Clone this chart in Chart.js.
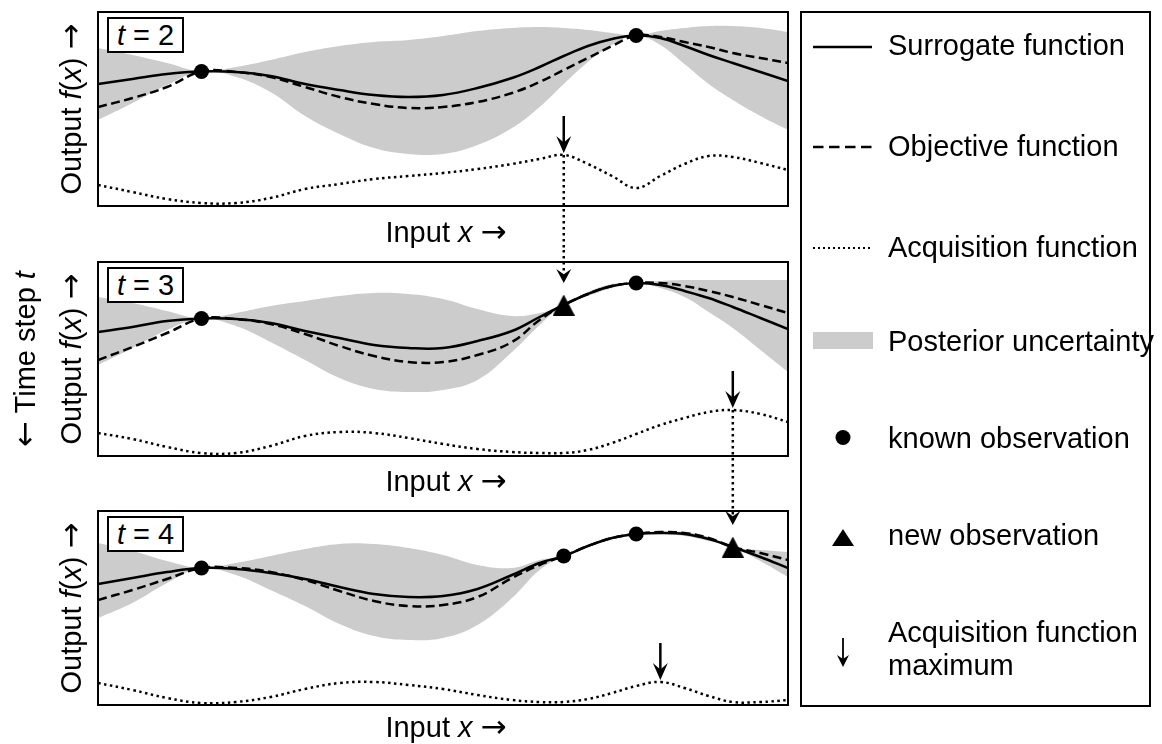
<!DOCTYPE html>
<html>
<head>
<meta charset="utf-8">
<title>Bayesian optimisation, time steps 2 to 4</title>
<script src="https://cdn.jsdelivr.net/npm/chart.js@4.4.1/dist/chart.umd.min.js"></script>
<style>
  html, body { margin: 0; padding: 0; background: #fff; }
  #page { position: relative; width: 1162px; height: 744px; overflow: hidden;
          font-family: "Liberation Sans", Arial, sans-serif; font-size: 29px; color: #000; }
  #page canvas { position: absolute; left: 0; }
  .txt { position: absolute; white-space: nowrap; line-height: 29px; }
  .rot { transform: translate(-50%, -50%) rotate(-90deg); }
  .arr { font-family: "DejaVu Sans", sans-serif; font-size: 31px; }
  .xlab { left: 296px; width: 300px; text-align: center; }
  .tbox { position: absolute; left: 107px; width: 77px; height: 36px; box-sizing: border-box;
          border: 2px solid #000; background: #fff; line-height: 32px; text-align: center; white-space: nowrap; }
  #legend { position: absolute; left: 800px; top: 11px; width: 351px; height: 696px;
            box-sizing: border-box; border: 2px solid #000; }
  #icons { position: absolute; left: 0; top: 0; }
</style>
</head>
<body>
<div id="page">
  <canvas id="p1" width="800" height="250" style="top:0px"></canvas>
  <canvas id="p2" width="800" height="250" style="top:250px"></canvas>
  <canvas id="p3" width="800" height="244" style="top:500px"></canvas>

  <div class="tbox" style="top:17px"><i>t</i> = 2</div>
  <div class="tbox" style="top:267px"><i>t</i> = 3</div>
  <div class="tbox" style="top:516px"><i>t</i> = 4</div>

  <div class="txt xlab" style="top:217px">Input <i>x</i> <span class="arr">→</span></div>
  <div class="txt xlab" style="top:466px">Input <i>x</i> <span class="arr">→</span></div>
  <div class="txt xlab" style="top:712px">Input <i>x</i> <span class="arr">→</span></div>

  <div class="txt rot" style="left:71px; top:109px">Output <i>f</i>(<i>x</i>) <span class="arr">→</span></div>
  <div class="txt rot" style="left:71px; top:359px">Output <i>f</i>(<i>x</i>) <span class="arr">→</span></div>
  <div class="txt rot" style="left:71px; top:608px">Output <i>f</i>(<i>x</i>) <span class="arr">→</span></div>
  <div class="txt rot" style="left:25px; top:359px"><span class="arr">←</span> Time step <i>t</i></div>

  <div id="legend"></div>
  <svg id="icons" width="1162" height="744">
    <line x1="813" y1="47" x2="872" y2="47" stroke="#000" stroke-width="2.5"/>
    <line x1="813" y1="147" x2="872" y2="147" stroke="#000" stroke-width="2.5" stroke-dasharray="10.5 5.5"/>
    <line x1="813" y1="248" x2="872" y2="248" stroke="#000" stroke-width="2" stroke-dasharray="2 3"/>
    <rect x="813" y="332" width="60" height="17" fill="#cccccc"/>
    <circle cx="843" cy="437.5" r="7.5" fill="#000"/>
    <polygon points="843,529 854,546 832,546" fill="#000"/>
    <line x1="843" y1="638" x2="843" y2="660" stroke="#000" stroke-width="1.8"/>
    <polygon points="843,667 837,655 843,659 849,655" fill="#000"/>
  </svg>
  <div class="txt" style="left:888px; top:31px">Surrogate function</div>
  <div class="txt" style="left:888px; top:132px">Objective function</div>
  <div class="txt" style="left:888px; top:233px">Acquisition function</div>
  <div class="txt" style="left:888px; top:327px">Posterior uncertainty</div>
  <div class="txt" style="left:888px; top:424px">known observation</div>
  <div class="txt" style="left:888px; top:521px">new observation</div>
  <div class="txt" style="left:888px; top:616px; line-height:33px">Acquisition function<br>maximum</div>
</div>

<script>
// input positions shared by every curve
const xGrid = [0, 5, 10, 15, 20, 25, 30, 35, 40, 45, 50, 55, 60, 64, 67.5, 71, 74.5, 78, 81.5, 85, 88.5, 92, 96, 100];

// t = 2
const surrogate1 = [122, 127, 132, 134.5, 134, 130, 122, 116, 111, 109, 111, 118, 128, 139, 150, 160, 167, 170.5, 168, 160, 151, 143, 134, 125];
const objective1 = [99, 108, 119, 134.5, 134, 129, 119, 109, 102, 98, 99, 104, 113, 124, 136, 148, 160, 170.5, 169, 164, 159, 153, 148, 143];
const upper1 = [158, 151, 143, 134.5, 139, 146, 154, 160, 164, 166, 170, 175, 178, 179, 178, 176, 173, 170.5, 175, 178, 180, 180, 178, 174];
const lower1 = [86, 103, 121, 134.5, 129, 114, 90, 72, 58, 52, 52, 61, 78, 99, 122, 144, 161, 170.5, 161, 142, 122, 106, 90, 76];
const acquisition1 = [21, 14, 7, 3, 3, 8, 17, 22, 27, 30, 33, 37, 42, 47, 51, 42, 30, 18, 30, 42, 50, 49, 43, 36];
const knownX1 = [15, 78];
const knownY1 = [134.5, 170.5];

// t = 3
const surrogate2 = [124, 129, 135, 137.5, 137, 133, 125, 118, 111, 108, 108, 115, 125, 139, 151, 162, 170, 173, 171, 165, 158, 149, 138, 127];
const objective2 = [96, 109, 123, 137.5, 137, 132, 122, 110, 100, 94, 94, 101, 114, 136, 151, 162, 170, 173, 173, 170, 165, 159, 151, 143];
const upper2 = [159, 153, 145, 137.5, 143, 150, 155, 160, 163, 162, 157, 147, 140, 143, 151, 164, 172, 173, 175, 176, 176, 176, 176, 176];
const lower2 = [91, 108, 126, 137.5, 130, 114, 96, 78, 67, 64, 66, 76, 104, 131, 151, 160, 168, 173, 168, 159, 144, 128, 106, 84];
const acquisition2 = [23, 17, 9, 3, 3, 10, 20, 24, 23, 18, 12, 7, 4, 3, 3, 6, 13, 22, 31, 38, 44, 46, 42, 34];
const knownX2 = [15, 78];
const knownY2 = [137.5, 173];
const newX2 = [67.5];
const newY2 = [151];

// t = 4
const surrogate3 = [121, 127, 133, 137, 136, 132, 126, 118, 111, 108, 109, 116, 130, 142, 149, 159, 167, 171, 172, 171, 166, 158, 148, 137];
const objective3 = [105, 115, 126, 137, 137, 133, 125, 114, 104, 99, 100, 108, 127, 140, 149, 159, 167, 171, 173, 172, 167, 158, 152, 145];
const upper3 = [162, 154, 144, 137, 142, 149, 156, 161, 161, 157, 150, 140, 137, 145, 149, 160, 168, 171, 173, 173, 168, 158, 155, 153];
const lower3 = [87, 102, 122, 137, 130, 115, 99, 81, 69, 65, 67, 80, 107, 135, 149, 158, 166, 171, 171, 169, 164, 158, 144, 128];
const acquisition3 = [22, 15, 7, 2, 3, 8, 16, 22, 23, 20, 16, 10, 5, 3, 3, 6, 12, 19, 23, 17, 9, 3, 3, 5];
const knownX3 = [15, 67.5, 78];
const knownY3 = [137, 149, 171];
const newX3 = [92];
const newY3 = [158];

// where the acquisition function peaks in each step
const acqMaxX = [67.5, 92, 81.5];


function pts(xs, ys) {
    return xs.map(function (x, i) { return { x: x, y: ys[i] }; });
}

function triangleImage(w, h) {
    var c = document.createElement('canvas');
    c.width = w;
    c.height = h;
    var g = c.getContext('2d');
    g.fillStyle = '#000';
    g.beginPath();
    g.moveTo(w / 2, 0);
    g.lineTo(w, h);
    g.lineTo(0, h);
    g.closePath();
    g.fill();
    return c;
}
var triangle = triangleImage(22, 21);

function arrowHead(ctx, x, tipY, len, half) {
    ctx.beginPath();
    ctx.moveTo(x, tipY);
    ctx.lineTo(x - half, tipY - len);
    ctx.lineTo(x, tipY - len * 0.62);
    ctx.lineTo(x + half, tipY - len);
    ctx.closePath();
    ctx.fill();
}

// frame, acquisition-maximum arrow and the dotted links between steps
var panelDeco = {
    id: 'panelDeco',
    afterDatasetsDraw: function (chart, args, opts) {
        var ctx = chart.ctx;
        var a = chart.chartArea;
        var xs = chart.scales.x, ys = chart.scales.y;
        ctx.save();
        ctx.strokeStyle = '#000';
        ctx.fillStyle = '#000';
        ctx.lineWidth = 2;
        ctx.strokeRect(a.left, a.top, a.right - a.left, a.bottom - a.top);

        if (opts.newX !== undefined && opts.newX !== null) {
            var nx = xs.getPixelForValue(opts.newX);
            var tip = ys.getPixelForValue(opts.newY) - 22;
            ctx.lineWidth = 2.5;
            ctx.setLineDash([2.5, 3.5]);
            ctx.beginPath();
            ctx.moveTo(nx, 0);
            ctx.lineTo(nx, tip - 9);
            ctx.stroke();
            ctx.setLineDash([]);
            arrowHead(ctx, nx, tip, 14, 7.5);
        }

        var mx = xs.getPixelForValue(opts.maxX);
        var my = ys.getPixelForValue(opts.maxY);
        ctx.lineWidth = 2.5;
        ctx.setLineDash([]);
        ctx.beginPath();
        ctx.moveTo(mx, my - 39);
        ctx.lineTo(mx, my - 12);
        ctx.stroke();
        arrowHead(ctx, mx, my - 2, 17, 7.5);

        if (opts.down) {
            ctx.setLineDash([2.5, 3.5]);
            ctx.beginPath();
            ctx.moveTo(mx, my);
            ctx.lineTo(mx, chart.height);
            ctx.stroke();
        }
        ctx.restore();
    }
};

function lineSet(label, data, extra) {
    return Object.assign({
        type: 'line',
        label: label,
        data: data,
        pointRadius: 0,
        borderColor: '#000',
        borderWidth: 2.5,
        tension: 0.4,
        fill: false
    }, extra);
}

function makePanel(id, s) {
    var acqPeak = s.acq[xGrid.indexOf(s.maxX)];
    var datasets = [
        lineSet('Posterior uncertainty', pts(xGrid, s.upper), { borderWidth: 0, borderColor: 'rgba(0,0,0,0)', backgroundColor: '#cccccc', fill: '+1', order: 6 }),
        lineSet('lower bound', pts(xGrid, s.lower), { borderWidth: 0, borderColor: 'rgba(0,0,0,0)', order: 6 }),
        lineSet('Acquisition function', pts(xGrid, s.acq), { borderDash: [2.5, 3.5], order: 4 }),
        lineSet('Objective function', pts(xGrid, s.obj), { borderDash: [9, 4.5], order: 3 }),
        lineSet('Surrogate function', pts(xGrid, s.sur), { order: 2 }),
        {
            type: 'line',
            label: 'known observation',
            data: pts(s.knownX, s.knownY),
            showLine: false,
            pointStyle: 'circle',
            pointRadius: 7.5,
            pointBackgroundColor: '#000',
            pointBorderWidth: 0,
            order: 1
        }
    ];
    if (s.newX) {
        datasets.push({
            type: 'line',
            label: 'new observation',
            data: pts(s.newX, s.newY),
            showLine: false,
            pointStyle: triangle,
            pointRadius: 10,
            order: 0
        });
    }

    new Chart(document.getElementById(id), {
        type: 'line',
        data: { datasets: datasets },
        options: {
            responsive: false,
            maintainAspectRatio: false,
            animation: false,
            devicePixelRatio: 1,
            events: [],
            layout: { padding: s.pad },
            scales: {
                x: { type: 'linear', min: 0, max: 100, display: false },
                y: { type: 'linear', min: 0, max: 194, display: false }
            },
            plugins: {
                legend: { display: false },
                tooltip: { enabled: false },
                panelDeco: {
                    maxX: s.maxX,
                    maxY: acqPeak,
                    down: s.down,
                    newX: s.newX ? s.newX[0] : null,
                    newY: s.newY ? s.newY[0] : null
                }
            }
        },
        plugins: [panelDeco]
    });
}

makePanel('p1', {
    sur: surrogate1, obj: objective1, upper: upper1, lower: lower1, acq: acquisition1,
    knownX: knownX1, knownY: knownY1, maxX: acqMaxX[0], down: true,
    pad: { left: 98, right: 12, top: 12, bottom: 44 }
});
makePanel('p2', {
    sur: surrogate2, obj: objective2, upper: upper2, lower: lower2, acq: acquisition2,
    knownX: knownX2, knownY: knownY2, newX: newX2, newY: newY2, maxX: acqMaxX[1], down: true,
    pad: { left: 98, right: 12, top: 12, bottom: 44 }
});
makePanel('p3', {
    sur: surrogate3, obj: objective3, upper: upper3, lower: lower3, acq: acquisition3,
    knownX: knownX3, knownY: knownY3, newX: newX3, newY: newY3, maxX: acqMaxX[2], down: false,
    pad: { left: 98, right: 12, top: 11, bottom: 39 }
});
</script>
</body>
</html>
